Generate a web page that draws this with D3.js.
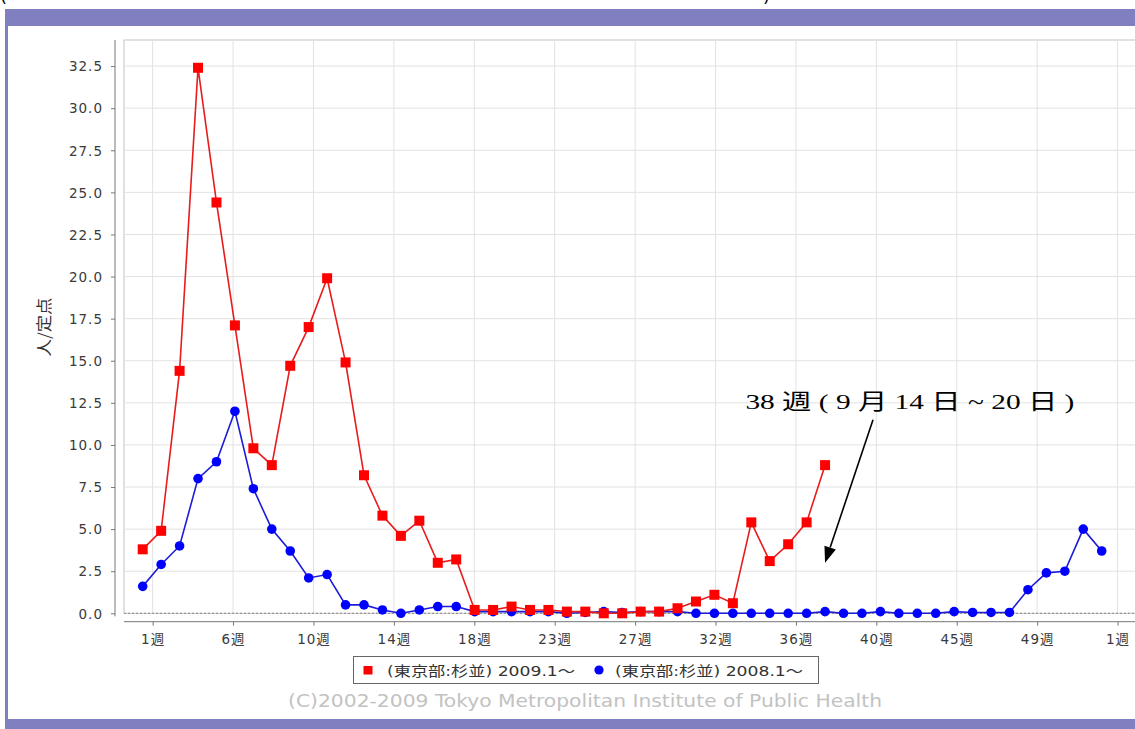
<!DOCTYPE html>
<html>
<head>
<meta charset="utf-8">
<style>
body { margin: 0; background: #fff; }
svg { display: block; }
.tick text { font-family: "DejaVu Sans", "Noto Sans CJK JP", sans-serif; fill: #3a3a3a; }
</style>
</head>
<body>
<svg id="chart" width="1135" height="729"></svg>
<script src="https://d3js.org/d3.v7.min.js"></script>
<script>
// weekly values, per fixed-point sentinel (人/定点)
const red2009 = [3.8, 4.9, 14.4, 32.4, 24.4, 17.1, 9.8, 8.8, 14.7, 17.0,
                 19.9, 14.9, 8.2, 5.8, 4.6, 5.5, 3.0, 3.2, 0.2, 0.2,
                 0.4, 0.2, 0.2, 0.1, 0.1, 0.0, 0.0, 0.1, 0.1, 0.3,
                 0.7, 1.1, 0.6, 5.4, 3.1, 4.1, 5.4, 8.8];
const blue2008 = [1.6, 2.9, 4.0, 8.0, 9.0, 12.0, 7.4, 5.0, 3.7, 2.1,
                  2.3, 0.5, 0.5, 0.2, 0.0, 0.2, 0.4, 0.4, 0.1, 0.1,
                  0.1, 0.1, 0.1, 0.0, 0.05, 0.1, 0.05, 0.1, 0.1, 0.1,
                  0.0, 0.0, 0.0, 0.0, 0.0, 0.0, 0.0, 0.1, 0.0, 0.0,
                  0.1, 0.0, 0.0, 0.0, 0.1, 0.05, 0.05, 0.05, 1.4, 2.4,
                  2.5, 5.0, 3.7];
const monthLabels = ["1週", "6週", "10週", "14週", "18週", "23週", "27週",
                     "32週", "36週", "40週", "45週", "49週", "1週"];
const yTicks = d3.range(0, 32.6, 2.5);
const legendNames = ["(東京部:杉並) 2009.1〜", "(東京部:杉並) 2008.1〜"];
const noteText = "38 週 ( 9 月 14 日 ~ 20 日 )";

const svg = d3.select("#chart");
const plotLeft = 124, plotTop = 40, plotBottom = 613.3, plotRight = 1140;

const x = d3.scaleLinear().domain([1, 53]).range([142.7, 1101.7]);
const y = d3.scaleLinear().domain([0, 34.05]).range([plotBottom, plotTop]);

// month ticks are evenly spaced along the year
const tickWeeks = monthLabels.map((d, i) => 1.54 + i * 4.36);

// frame
svg.append("rect").attr("x", 5).attr("y", 9).attr("width", 1135).attr("height", 17).attr("fill", "#8080c0");
svg.append("rect").attr("x", 5).attr("y", 9).attr("width", 3).attr("height", 720).attr("fill", "#8080c0");
svg.append("rect").attr("x", 5).attr("y", 719).attr("width", 1135).attr("height", 10).attr("fill", "#8080c0");

// cut-off title fragments (the reference is cropped through the title)
svg.append("text").attr("x", 0).attr("y", 2).attr("font-size", 18).attr("font-family", "DejaVu Sans").text("(");
svg.append("text").attr("x", 763).attr("y", 2).attr("font-size", 18).attr("font-family", "DejaVu Sans").text(")");

// plot area
svg.append("rect").attr("x", plotLeft).attr("y", plotTop)
    .attr("width", plotRight - plotLeft).attr("height", plotBottom - plotTop)
    .attr("fill", "#fff").attr("stroke", "#c4c4c4");

svg.append("g").selectAll("line")
    .data(yTicks.filter(d => d > 0))
    .join("line")
    .attr("x1", plotLeft).attr("x2", plotRight)
    .attr("y1", d => y(d)).attr("y2", d => y(d))
    .attr("stroke", "#e2e2e2");

svg.append("g").selectAll("line")
    .data(tickWeeks)
    .join("line")
    .attr("x1", d => x(d)).attr("x2", d => x(d))
    .attr("y1", plotTop).attr("y2", plotBottom)
    .attr("stroke", "#e2e2e2");

svg.append("line")
    .attr("x1", plotLeft).attr("x2", plotRight)
    .attr("y1", y(0)).attr("y2", y(0))
    .attr("stroke", "#888").attr("stroke-dasharray", "2,2");

// y axis
const yAxis = svg.append("g").attr("transform", "translate(115,0)")
    .call(d3.axisLeft(y).tickValues(yTicks).tickFormat(d3.format(".1f")).tickSize(4).tickSizeOuter(0));
yAxis.select(".domain").attr("stroke", "#777").attr("d", `M0,${plotTop}V${plotBottom + 3}`);
yAxis.selectAll(".tick line").attr("stroke", "#777");
yAxis.selectAll(".tick text").attr("x", -12).attr("font-size", 13.5).attr("letter-spacing", 1).attr("dy", "0.35em");

// x axis
const xAxis = svg.append("g").attr("transform", "translate(0,621.7)")
    .call(d3.axisBottom(x).tickValues(tickWeeks).tickFormat((d, i) => monthLabels[i]).tickSize(4).tickSizeOuter(0));
xAxis.select(".domain").attr("stroke", "#777").attr("d", `M${plotLeft},0H${plotRight}`);
xAxis.selectAll(".tick line").attr("stroke", "#777");
xAxis.selectAll(".tick text").attr("y", 13).attr("font-size", 13.5).attr("letter-spacing", 1);

// y label
svg.append("text")
    .attr("transform", "translate(50,327) rotate(-90)")
    .attr("text-anchor", "middle")
    .attr("font-family", "Noto Sans CJK JP, sans-serif")
    .attr("font-size", 16).attr("fill", "#333")
    .attr("textLength", 59).attr("lengthAdjust", "spacingAndGlyphs")
    .text("人/定点");

// series
const line = d3.line().x((d, i) => x(i + 1)).y(d => y(d));

svg.append("path").datum(blue2008).attr("d", line)
    .attr("fill", "none").attr("stroke", "#1c1cd8").attr("stroke-width", 1.6);
svg.append("g").selectAll("circle").data(blue2008).join("circle")
    .attr("cx", (d, i) => x(i + 1)).attr("cy", d => y(d)).attr("r", 4.8)
    .attr("fill", "#0000ff");

svg.append("path").datum(red2009).attr("d", line)
    .attr("fill", "none").attr("stroke", "#e81c1c").attr("stroke-width", 1.6);
svg.append("g").selectAll("rect").data(red2009).join("rect")
    .attr("x", (d, i) => x(i + 1) - 5).attr("y", d => y(d) - 5)
    .attr("width", 10).attr("height", 10)
    .attr("fill", "#ff0000");

// annotation
const arrowFrom = [40.6, 11.5], arrowTo = [38, 3.0];
const ax1 = x(arrowFrom[0]), ay1 = y(arrowFrom[1]), ax2 = x(arrowTo[0]), ay2 = y(arrowTo[1]);
const ang = Math.atan2(ay2 - ay1, ax2 - ax1);
const headLen = 16, headHalf = 6;
const bx = ax2 - headLen * Math.cos(ang), by = ay2 - headLen * Math.sin(ang);
svg.append("line").attr("x1", ax1).attr("y1", ay1).attr("x2", bx).attr("y2", by)
    .attr("stroke", "#000").attr("stroke-width", 1.6);
svg.append("path")
    .attr("d", `M${ax2},${ay2}L${bx + headHalf * Math.sin(ang)},${by - headHalf * Math.cos(ang)}L${bx - headHalf * Math.sin(ang)},${by + headHalf * Math.cos(ang)}Z`)
    .attr("fill", "#000");

svg.append("text")
    .attr("x", x(42.6)).attr("y", y(12.13))
    .attr("text-anchor", "middle")
    .attr("font-family", "Liberation Serif, Noto Sans CJK JP, serif")
    .attr("font-size", 22).attr("fill", "#000")
    .attr("textLength", 329).attr("lengthAdjust", "spacingAndGlyphs")
    .text(noteText);

// legend
const legend = svg.append("g");
legend.append("rect").attr("x", 353.5).attr("y", 656.5).attr("width", 465).attr("height", 27)
    .attr("fill", "#fff").attr("stroke", "#666");
legend.append("rect").attr("x", 363.5).attr("y", 666).attr("width", 9).attr("height", 8.5).attr("fill", "#ff0000");
legend.append("circle").attr("cx", 599).attr("cy", 670).attr("r", 4.6).attr("fill", "#0000ff");
legend.selectAll("text").data(legendNames).join("text")
    .attr("x", (d, i) => i === 0 ? 387 : 615).attr("y", 676)
    .attr("font-family", "DejaVu Sans, Noto Sans CJK JP, sans-serif")
    .attr("font-size", 14).attr("fill", "#333")
    .attr("textLength", 188).attr("lengthAdjust", "spacingAndGlyphs")
    .text(d => d);

// footer
svg.append("text")
    .attr("x", 288).attr("y", 707)
    .attr("font-family", "DejaVu Sans, sans-serif")
    .attr("font-size", 17).attr("fill", "#c2c2c2")
    .attr("textLength", 594).attr("lengthAdjust", "spacingAndGlyphs")
    .text("(C)2002-2009 Tokyo Metropolitan Institute of Public Health");
</script>
</body>
</html>
